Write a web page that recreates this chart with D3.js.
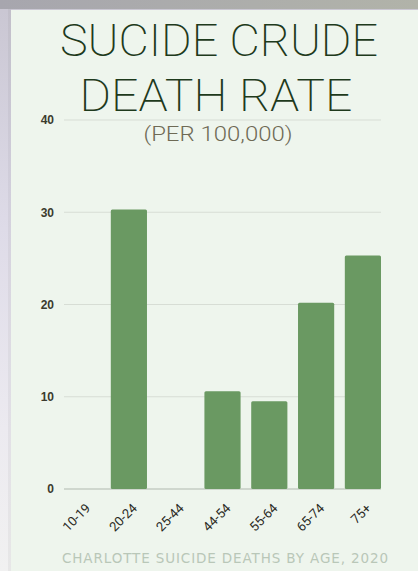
<!DOCTYPE html>
<html><head><meta charset="utf-8">
<script src="https://cdn.jsdelivr.net/npm/d3@7"></script>
<style>
html,body{margin:0;padding:0;background:#fff;}
svg{display:block;}
</style></head>
<body>
<script>
const categories = ["10-19","20-24","25-44","44-54","55-64","65-74","75+"];
const values = [0, 30.3, 0, 10.6, 9.5, 20.2, 25.3];
const yTicks = [0, 10, 20, 30, 40];
const titleLines = ["SUCIDE CRUDE", "DEATH RATE"];
const subtitle = "(PER 100,000)";
const footer = "CHARLOTTE SUICIDE DEATHS BY AGE, 2020";

const W = 418, H = 571;
const svg = d3.select("body").append("svg").attr("width", W).attr("height", H);
const defs = svg.append("defs");
const gTop = defs.append("linearGradient").attr("id","gtop").attr("x1",0).attr("x2",1).attr("y1",0).attr("y2",0);
gTop.append("stop").attr("offset","0").attr("stop-color","#a7a6ae");
gTop.append("stop").attr("offset","1").attr("stop-color","#b1b3a9");
const gLeft = defs.append("linearGradient").attr("id","gleft").attr("x1",0).attr("x2",0).attr("y1",0).attr("y2",1);
gLeft.append("stop").attr("offset","0").attr("stop-color","#c9c6d2");
gLeft.append("stop").attr("offset","0.4").attr("stop-color","#dedbe8");
gLeft.append("stop").attr("offset","0.75").attr("stop-color","#eceaf0");
gLeft.append("stop").attr("offset","1").attr("stop-color","#f1f1f1");

// backdrop
svg.append("rect").attr("x",0).attr("y",0).attr("width",W).attr("height",H).attr("fill","url(#gleft)");
svg.append("rect").attr("x",0).attr("y",0).attr("width",W).attr("height",9).attr("fill","url(#gtop)");
svg.append("rect").attr("x",8).attr("y",9).attr("width",3).attr("height",H-9).attr("fill","#000").attr("opacity",0.04);
// panel
svg.append("rect").attr("x",11).attr("y",10).attr("width",W-11).attr("height",H-10).attr("fill","#eef5ed");

const x = d3.scaleBand().domain(categories).range([64, 381]).paddingInner(0.227).paddingOuter(0);
const y = d3.scaleLinear().domain([0, 40]).range([489, 120]);

// gridlines
svg.append("g").selectAll("line").data(yTicks).join("line")
  .attr("x1", 64).attr("x2", 381)
  .attr("y1", d => y(d)).attr("y2", d => y(d))
  .attr("stroke", d => d === 0 ? "#c5cdc3" : "#d7ddd5").attr("stroke-width", d => d===0?1.5:1);

// y labels
const yAxis = d3.axisLeft(y).tickValues(yTicks).tickSize(0).tickPadding(0);
const ya = svg.append("g").attr("transform","translate(54,0)").call(yAxis);
ya.select(".domain").remove();
ya.selectAll("text").attr("font-family","Liberation Sans, Arial, sans-serif").attr("font-weight","bold")
  .attr("font-size", 12).attr("fill","#3b3b2e").attr("dy","0.32em");

// bars
svg.append("g").selectAll("rect").data(values.map((v,i)=>({c:categories[i], v}))).join("rect")
  .filter(d => d.v > 0)
  .attr("x", d => x(d.c)).attr("width", x.bandwidth())
  .attr("y", d => y(d.v)).attr("height", d => y(0) - y(d.v))
  .attr("rx", 1.5).attr("fill", "#6a9962");

// x labels
svg.append("g").selectAll("text").data(categories).join("text")
  .attr("transform", d => `translate(${x(d) + x.bandwidth()/2 + 9},${509}) rotate(-45)`)
  .attr("text-anchor","end")
  .attr("font-family","Roboto, sans-serif").attr("font-weight",400).attr("font-size", 13).attr("fill","#2a2a1e")
  .text(d => d);

// title
svg.append("g").selectAll("text").data(titleLines).join("text")
  .attr("x", (d,i) => i===0 ? 219 : 216).attr("y", (d,i) => 56 + i*55)
  .attr("text-anchor","middle")
  .attr("font-family","Roboto, sans-serif").attr("font-weight", 200).attr("font-size", 45)
  .attr("fill","#1e3a1c")
  .attr("textLength", (d,i) => i===0 ? 318 : 273).attr("lengthAdjust","spacingAndGlyphs")
  .text(d => d);

svg.append("text").attr("x", 218).attr("y", 141).attr("text-anchor","middle")
  .attr("font-family","Roboto, sans-serif").attr("font-weight",300).attr("font-size", 20)
  .attr("fill","#6e6a55").attr("textLength",149).attr("lengthAdjust","spacingAndGlyphs")
  .text(subtitle);

svg.append("text").attr("x", 225).attr("y", 563).attr("text-anchor","middle")
  .attr("font-family","DejaVu Sans, sans-serif").attr("font-size", 13.5)
  .attr("fill","#b9c7b8").attr("textLength",326).attr("lengthAdjust","spacing")
  .text(footer);
</script>
</body></html>
